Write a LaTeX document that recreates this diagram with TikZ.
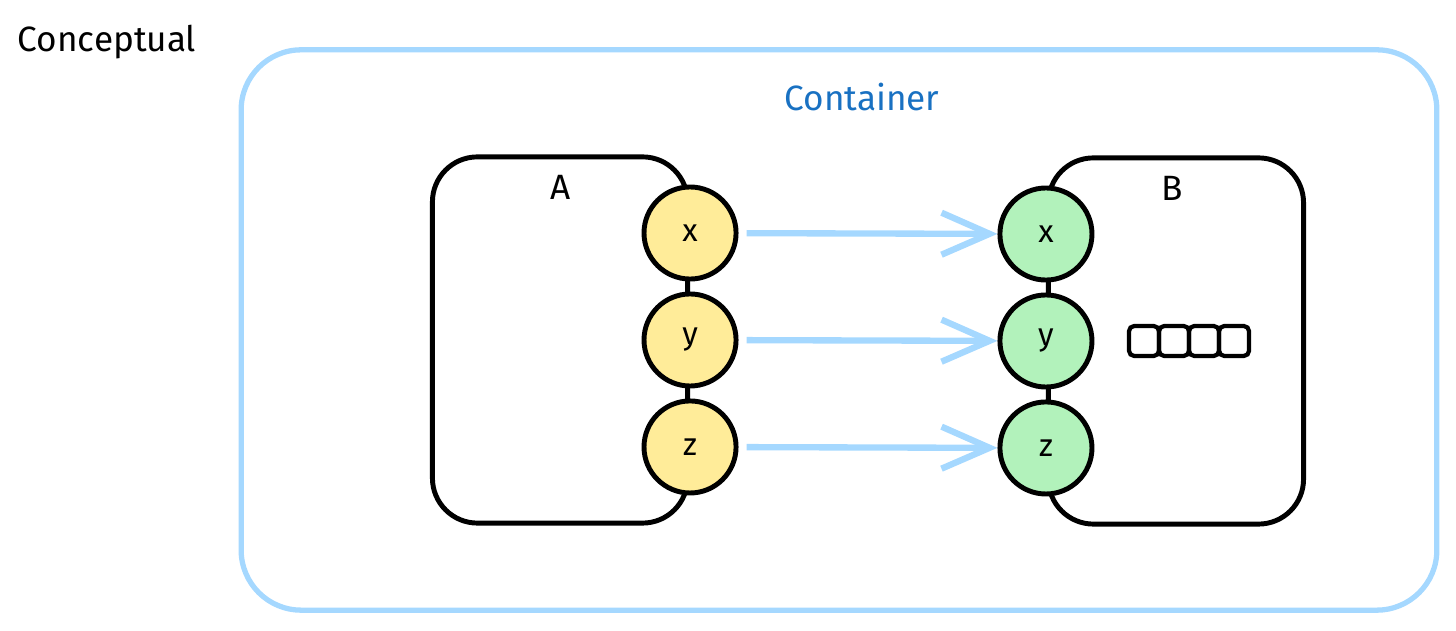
\documentclass[tikz,border=0pt]{standalone}
\usepackage{fontspec}
\setmainfont{Fira Sans}
\usetikzlibrary{arrows.meta, positioning}
\definecolor{frameblue}{HTML}{A5D8FF}
\definecolor{textblue}{HTML}{1971C2}
\definecolor{portyellow}{HTML}{FFEC99}
\definecolor{portgreen}{HTML}{B2F2BB}

\begin{document}
\begin{tikzpicture}[x=0.01cm, y=-0.01cm, node distance=0.1cm,
	box/.style={draw, line width=1.4pt, rounded corners=0.45cm, minimum width=2.55cm, minimum height=3.66cm},
	port/.style={circle, draw, line width=1.4pt, minimum size=0.92cm, inner sep=0pt, font=\small},
	cell/.style={draw, line width=1.2pt, rounded corners=1.5pt, minimum size=0.3cm, inner sep=0pt, outer sep=0pt},
	flow/.style={-{Straight Barb[length=4.8mm, width=4.2mm]}, frameblue, line width=1.8pt, shorten <=0.08cm}]

	\useasboundingbox (0,0) rectangle (1456,631);

	\node (title) at (107,42) {Conceptual};
	\node[draw=frameblue, line width=1.5pt, rounded corners=0.6cm, minimum width=11.95cm, minimum height=5.6cm] (container) at (839,330) {};
	\node[textblue] (containerlabel) at (862,97) {Container};

	% component A with its ports
	\node[box] (boxA) at (560,340) {};
	\node (labelA) at (561,187) {A};
	\node[port, fill=portyellow] (ay) at (boxA.east) {y};
	\node[port, fill=portyellow, above=of ay] (ax) {x};
	\node[port, fill=portyellow, below=of ay] (az) {z};

	% component B with its ports
	\node[box] (boxB) at (1176,341) {};
	\node (labelB) at (1172,188) {B};
	\node[port, fill=portgreen] (by) at (boxB.west) {y};
	\node[port, fill=portgreen, above=of by] (bx) {x};
	\node[port, fill=portgreen, below=of by] (bz) {z};

	% the queue inside B
	\node[cell] (c1) at (1144,341) {};
	\node[cell, right=0pt of c1] (c2) {};
	\node[cell, right=0pt of c2] (c3) {};
	\node[cell, right=0pt of c3] (c4) {};

	\draw[flow] (ax) -- (bx);
	\draw[flow] (ay) -- (by);
	\draw[flow] (az) -- (bz);

\end{tikzpicture}
\end{document}
